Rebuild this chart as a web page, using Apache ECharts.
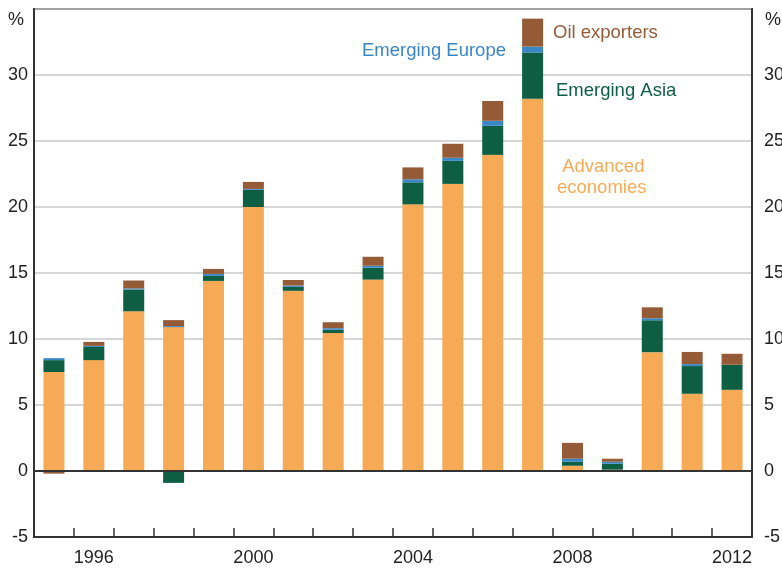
<!DOCTYPE html>
<html>
<head>
<meta charset="utf-8">
<script src="https://cdn.jsdelivr.net/npm/echarts@6/dist/echarts.min.js"></script>
<style>
  html, body { margin: 0; padding: 0; background: #fff; }
  #main { width: 782px; height: 572px; }
</style>
</head>
<body>
<div id="main"></div>
<script>
// years on the x axis
var years = ['1995', '1996', '1997', '1998', '1999', '2000', '2001', '2002', '2003',
  '2004', '2005', '2006', '2007', '2008', '2009', '2010', '2011', '2012'];
// contributions, per cent
var advanced = [7.5, 8.4, 12.1, 10.9, 14.4, 20.0, 13.65, 10.45, 14.5, 20.2, 21.75, 23.95, 28.2, 0.4, 0.1, 9.0, 5.85, 6.15];
var emergingAsia = [0.9, 1.0, 1.65, -0.9, 0.38, 1.3, 0.3, 0.25, 0.9, 1.67, 1.75, 2.2, 3.5, 0.3, 0.45, 2.42, 2.1, 1.9];
var emergingEurope = [0.15, 0.08, 0.08, 0.08, 0.15, 0.07, 0.1, 0.12, 0.15, 0.23, 0.23, 0.38, 0.45, 0.23, 0.15, 0.15, 0.15, 0];
var oilExporters = [-0.2, 0.3, 0.6, 0.45, 0.38, 0.53, 0.42, 0.45, 0.68, 0.9, 1.06, 1.5, 2.12, 1.2, 0.23, 0.83, 0.92, 0.83];
var yTicks = [-5, 0, 5, 10, 15, 20, 25, 30];

var chart = echarts.init(document.getElementById('main'));
var font = 'Liberation Sans, Arial, sans-serif';

function bar(name, data, color) {
  return {
    name: name,
    type: 'bar',
    stack: 'total',
    barWidth: 21,
    data: data,
    itemStyle: { color: color },
    silent: true
  };
}

var series = [
  bar('Advanced economies', advanced, '#f7aa56'),
  bar('Emerging Asia', emergingAsia, '#0d5e42'),
  bar('Emerging Europe', emergingEurope, '#3a87c8'),
  bar('Oil exporters', oilExporters, '#955b36')
];
series[0].markLine = {
  silent: true,
  symbol: 'none',
  label: { show: false },
  lineStyle: { color: '#333', width: 2, type: 'solid' },
  data: [{ yAxis: 0 }]
};

var yLabel = {
  fontFamily: font,
  fontSize: 18,
  color: '#222',
  formatter: function (v) { return yTicks.indexOf(v) >= 0 ? String(v) : ''; }
};

var option = {
  animation: false,
  grid: {
    left: 34, right: 30, top: 9, bottom: 35,
    outerBoundsMode: 'none',
    show: true, borderColor: '#333', borderWidth: 2
  },
  xAxis: {
    type: 'category',
    data: years,
    axisLine: { onZero: false, lineStyle: { color: '#333', width: 2 } },
    axisTick: { show: true, inside: true, length: 9, interval: 0, lineStyle: { color: '#333', width: 1.5 } },
    axisLabel: {
      fontFamily: font, fontSize: 18, color: '#222', margin: 12,
      interval: function (i, v) { return (parseInt(v, 10) - 1996) % 4 === 0; }
    }
  },
  yAxis: [
    {
      type: 'value', min: -5, max: 35, interval: 5,
      axisLine: { show: true, lineStyle: { color: '#333', width: 2 } },
      axisTick: { show: false },
      axisLabel: Object.assign({ margin: 6 }, yLabel),
      splitLine: { lineStyle: { color: '#c8c8c8', width: 1.5 } }
    },
    {
      type: 'value', min: -5, max: 35, interval: 5, position: 'right',
      axisLine: { show: true, lineStyle: { color: '#333', width: 2 } },
      axisTick: { show: false },
      axisLabel: Object.assign({ margin: 12 }, yLabel),
      splitLine: { show: false }
    }
  ],
  graphic: [
    { type: 'text', left: 8, top: 11, style: { text: '%', font: '18px ' + font, fill: '#222' } },
    { type: 'text', left: 765, top: 11, style: { text: '%', font: '18px ' + font, fill: '#222' } },
    { type: 'text', left: 553, top: 23, style: { text: 'Oil exporters', font: '18.5px ' + font, fill: '#955b36' } },
    { type: 'text', left: 362, top: 41, style: { text: 'Emerging Europe', font: '18.5px ' + font, fill: '#3a87c8' } },
    { type: 'text', left: 556, top: 81, style: { text: 'Emerging Asia', font: '18.5px ' + font, fill: '#0d5e42' } },
    { type: 'text', left: 557, top: 156, style: { text: ' Advanced\neconomies', font: '18.5px ' + font, fill: '#f7aa56', lineHeight: 21 } }
  ],
  series: series
};

chart.setOption(option);
</script>
</body>
</html>
